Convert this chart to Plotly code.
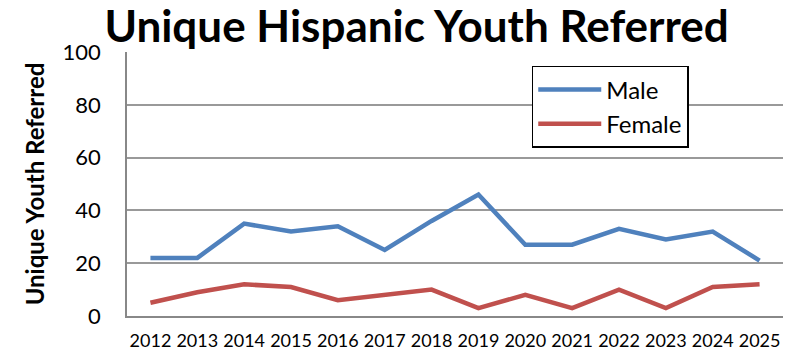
import plotly.graph_objects as go

years = ["2012", "2013", "2014", "2015", "2016", "2017", "2018", "2019",
         "2020", "2021", "2022", "2023", "2024", "2025"]
male = [22, 22, 35, 32, 34, 25, 36, 46, 27, 27, 33, 29, 32, 21]
female = [5, 9, 12, 11, 6, 8, 10, 3, 8, 3, 10, 3, 11, 12]
y_ticks = [0, 20, 40, 60, 80, 100]

FONT = "Lato"

fig = go.Figure()
fig.add_trace(go.Scatter(x=years, y=male, mode="lines", name="Male",
                         legendgroup="m",
                         line=dict(color="#4F81BD", width=4.5)))
fig.add_trace(go.Scatter(x=years, y=female, mode="lines", name="Female",
                         legendgroup="f",
                         line=dict(color="#C0504D", width=4.5)))

fig.update_layout(
    width=789, height=355,
    margin=dict(l=127, r=6, t=52, b=39),
    paper_bgcolor="white", plot_bgcolor="white",
    title=dict(text="<b>Unique Hispanic Youth Referred</b>",
               font=dict(family=FONT, size=44, color="black"),
               x=0.528, xanchor="center", y=0.925, yanchor="middle"),
    showlegend=True,
    legend=dict(x=0.617, y=0.947, xanchor="left", yanchor="top",
                bgcolor="white", bordercolor="black", borderwidth=1.5,
                font=dict(family=FONT, size=24, color="black"),
                tracegroupgap=0, itemwidth=63),
    xaxis=dict(type="category", showgrid=False, showline=True,
               linecolor="#888888", linewidth=1.5, ticks="",
               tickfont=dict(family=FONT, size=18, color="black"),
               ticklabelstandoff=8, automargin=False,
               range=[-0.5, 13.5]),
    yaxis=dict(range=[0, 100], tickvals=y_ticks, showgrid=True,
               gridcolor="#999999", gridwidth=1.5, showline=True,
               linecolor="#888888", linewidth=1.5, zeroline=False,
               tickfont=dict(family=FONT, size=22, color="black"),
               ticklabelstandoff=20, automargin=False,
               title=dict(text="<b>Unique Youth Referred</b>",
                          font=dict(family=FONT, size=24, color="black"),
                          standoff=11)),
)

fig.write_html("out.html")
